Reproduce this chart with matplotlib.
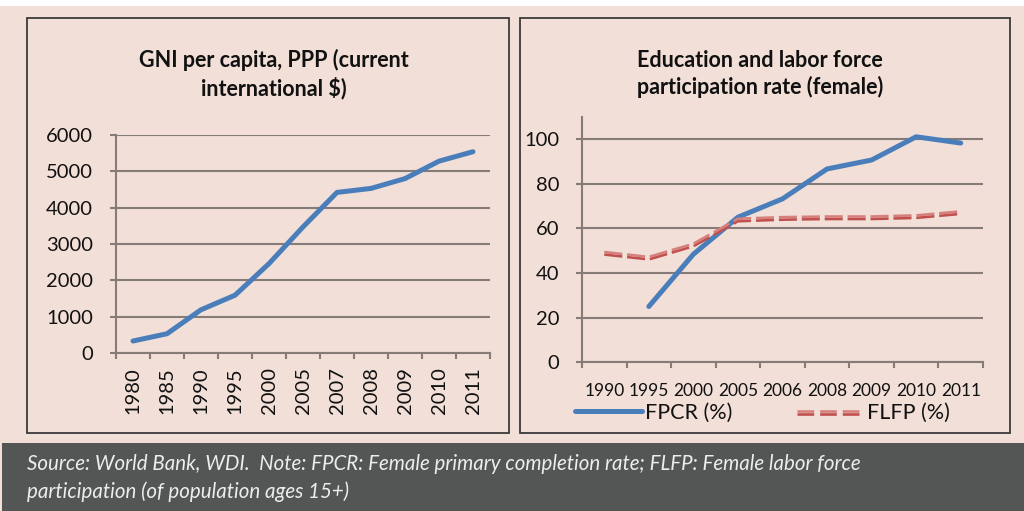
import numpy as np
import matplotlib
matplotlib.use('Agg')
import matplotlib.pyplot as plt
from matplotlib.patches import Rectangle
from matplotlib import patheffects as pe

plt.rcParams['font.family'] = ['Lato', 'DejaVu Sans']
plt.rcParams['lines.scale_dashes'] = False

# data
gni_years = ['1980', '1985', '1990', '1995', '2000', '2005', '2007', '2008', '2009', '2010', '2011']
gni_values = [330, 530, 1190, 1590, 2460, 3470, 4420, 4530, 4800, 5280, 5540]

edu_years = ['1990', '1995', '2000', '2005', '2006', '2008', '2009', '2010', '2011']
fpcr = [np.nan, 25, 48.4, 65.0, 73.2, 86.6, 90.6, 101.0, 98.2]
flfp = [49.4, 47.2, 53.1, 64.3, 65.0, 65.3, 65.3, 65.8, 67.6]

PINK = '#F2DFD8'
GRID = '#857C78'
BLUE = '#4A7EBB'
RED = '#C0504D'
TXT = '#111111'

W, H = 1024, 511
fig = plt.figure(figsize=(W / 100, H / 100), dpi=100, facecolor=PINK)


def fx(px):
    return px / W


def fy(py):
    return 1 - py / H


def box(x0, y0, x1, y1, **kw):
    fig.patches.append(Rectangle((fx(x0), fy(y1)), fx(x1 - x0), (y1 - y0) / H,
                                 transform=fig.transFigure, **kw))


# white strip on top, panel frames and the dark source band
box(0, 0, W, 6, facecolor='white', edgecolor='none', zorder=0)
box(27, 18, 509, 433, facecolor='none', edgecolor='#3A3A3A', lw=1.3)
box(520, 18, 1010, 433, facecolor='none', edgecolor='#3A3A3A', lw=1.3)
box(2, 443, W, H, facecolor='#535655', edgecolor='none')


def style_axes(ax, labels, ymax, yticks):
    n = len(labels)
    ax.set_facecolor('none')
    ax.set_xlim(-0.5, n - 0.5)
    ax.set_ylim(0, ymax)
    ax.set_yticks(yticks)
    ax.set_xticks(np.arange(n + 1) - 0.5)
    ax.set_xticklabels([])
    ax.set_xticks(np.arange(n), minor=True)
    ax.grid(axis='y', color=GRID, lw=1.5)
    ax.set_axisbelow(True)
    for s in ['top', 'right']:
        ax.spines[s].set_visible(False)
    for s in ['left', 'bottom']:
        ax.spines[s].set_color(GRID)
        ax.spines[s].set_linewidth(1.5)
    ax.tick_params(axis='both', which='major', color=GRID, width=1.5, length=4.5, direction='out')
    ax.tick_params(axis='y', labelsize=14.5, labelcolor=TXT, pad=12)
    ax.tick_params(axis='x', which='minor', length=0)


def dbl_dash():
    # compound dashed line: light upper stroke, darker lower stroke
    return [pe.SimpleLineShadow(offset=(0, -1.8), shadow_color=RED, alpha=1, rho=1), pe.Normal()]


# left panel: GNI per capita
ax1 = fig.add_axes([fx(116), fy(353), fx(374), 218 / H])
style_axes(ax1, gni_years, 6000, np.arange(0, 6001, 1000))
ax1.set_xticklabels(gni_years, minor=True, rotation=90, fontsize=14.5, color=TXT)
ax1.tick_params(axis='x', which='minor', pad=10)
ax1.plot(np.arange(len(gni_years)), gni_values, color=BLUE, lw=3.6, solid_capstyle='round')
fig.text(fx(274), fy(74), 'GNI per capita, PPP (current\ninternational $)', ha='center', va='center',
         fontsize=15.5, fontweight='bold', color=TXT, linespacing=1.3)

# right panel: education and labor force participation
ax2 = fig.add_axes([fx(582), fy(362.3), fx(401), 245.6 / H])
style_axes(ax2, edu_years, 110, np.arange(0, 101, 20))
ax2.set_xticklabels(edu_years, minor=True, fontsize=12.5, color=TXT)
ax2.tick_params(axis='x', which='minor', pad=15)
x2 = np.arange(len(edu_years))
ax2.plot(x2, fpcr, color=BLUE, lw=3.6, solid_capstyle='round', label='FPCR (%)')
ax2.plot(x2, flfp, color='#D6807D', lw=1.9, dashes=(13, 3.5), label='FLFP (%)', path_effects=dbl_dash())
fig.text(fx(760), fy(74), 'Education and labor force\nparticipation rate (female)', ha='center', va='center',
         fontsize=15.5, fontweight='bold', color=TXT, linespacing=1.3)
leg = ax2.legend(loc='center left', bbox_to_anchor=(fx(575), fy(413)), bbox_transform=fig.transFigure,
                 ncol=2, frameon=False, fontsize=15.5, handlelength=3.1, handletextpad=0.15,
                 columnspacing=3.0, borderpad=0, borderaxespad=0, labelcolor=TXT)
leg.get_lines()[1].set_dashes((12, 4.3))

fig.text(fx(27), fy(478), 'Source: World Bank, WDI.  Note: FPCR: Female primary completion rate; FLFP: Female labor force\n'
         'participation (of population ages 15+)', ha='left', va='center', fontsize=14.8, style='italic',
         color='#EDEDED', linespacing=1.45)

fig.savefig('out.png', dpi=100, facecolor=PINK)
